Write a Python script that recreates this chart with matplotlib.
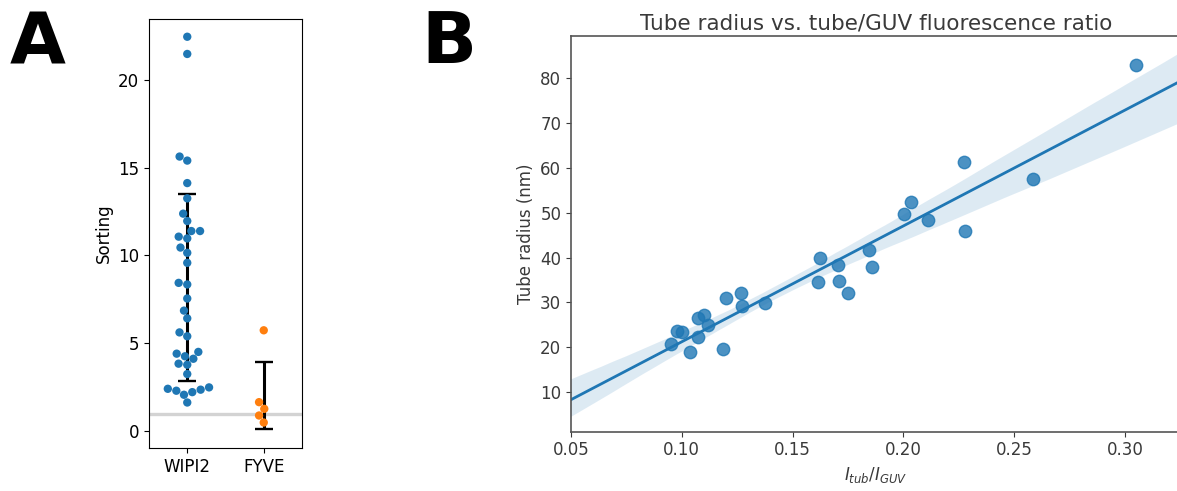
import numpy as np
import matplotlib
matplotlib.use('Agg')
import matplotlib.pyplot as plt
import seaborn as sns
import pandas as pd

# panel A: sorting values per protein
wipi2 = [22.45, 21.47, 15.63, 15.40, 14.12, 13.25, 12.38, 11.96, 11.39, 11.39,
         11.07, 10.97, 10.45, 10.15, 9.58, 8.44, 8.35, 7.55, 6.86, 6.42,
         5.62, 5.40, 4.51, 4.41, 4.26, 4.12, 3.84, 3.78, 3.25, 2.49,
         2.41, 2.36, 2.30, 2.22, 2.07, 1.63]
fyve = [5.74, 1.65, 1.27, 0.89, 0.49]
groups = ['WIPI2', 'FYVE']

# panel B: fluorescence ratio vs tube radius
ratio = [0.3048, 0.2272, 0.2586, 0.2034, 0.2001, 0.2113, 0.2277,
         0.1624, 0.1703, 0.1845, 0.1860, 0.1613, 0.1710, 0.1749,
         0.1198, 0.1266, 0.1272, 0.1375, 0.1102, 0.1075, 0.1120,
         0.0977, 0.1002, 0.1071, 0.0951, 0.1036, 0.1186]
radius = [82.96, 61.41, 57.55, 52.36, 49.75, 48.41, 45.96,
          40.0, 38.45, 41.73, 37.8, 34.66, 34.9, 32.2,
          31.03, 32.14, 29.24, 29.98, 27.24, 26.64, 25.0,
          23.74, 23.51, 22.4, 20.77, 19.0, 19.66]

W, H = 1177, 491
fig = plt.figure(figsize=(W / 100, H / 100), dpi=100)

# ---- A ----
axA = fig.add_axes([149 / W, 1 - 448 / H, 153 / W, 429 / H])
df = pd.DataFrame({'group': ['WIPI2'] * len(wipi2) + ['FYVE'] * len(fyve),
                   'val': wipi2 + fyve})
axA.axhline(1, color='lightgray', lw=2.4, zorder=0)
means = [np.mean(wipi2), np.mean(fyve)]
sds = [np.std(wipi2), np.std(fyve)]
axA.errorbar([0, 1], means, yerr=sds, fmt='none', ecolor='black',
             elinewidth=2.2, capsize=6.4, capthick=1.7, zorder=1)
sns.swarmplot(data=df, x='group', y='val', hue='group', order=groups,
              palette=['#1f77b4', '#ff7f0e'], size=6, legend=False,
              ax=axA, zorder=3)
axA.set_xlim(-0.5, 1.5)
axA.set_ylim(-0.96, 23.46)
axA.set_yticks([0, 5, 10, 15, 20])
axA.set_xlabel('')
axA.set_ylabel('Sorting', fontsize=12)
axA.tick_params(labelsize=12)

# ---- B ----
gray = '#3a3a3a'
axB = fig.add_axes([571 / W, 1 - 431.7 / H, 610 / W, 395.7 / H])
xlo, xhi = 0.05, 0.05 + 610 / 2216
axB.set_xlim(xlo, xhi)
sns.regplot(x=np.array(ratio), y=np.array(radius), ax=axB, color='#1f77b4',
            truncate=False, seed=0, scatter_kws={'s': 80, 'alpha': 0.8},
            line_kws={'lw': 2})
axB.set_xlim(xlo, xhi)
axB.set_ylim(1.2, 89.4)
axB.set_xticks([0.05, 0.10, 0.15, 0.20, 0.25, 0.30])
axB.set_yticks([10, 20, 30, 40, 50, 60, 70, 80])
for s in axB.spines.values():
    s.set_color('#555555')
    s.set_linewidth(1.2)
axB.tick_params(labelsize=12, colors=gray)
axB.set_title('Tube radius vs. tube/GUV fluorescence ratio', fontsize=15.5,
              color=gray, pad=5)
axB.set_xlabel('$I_{tub}/I_{GUV}$', fontsize=12, color=gray)
axB.set_ylabel('Tube radius (nm)', fontsize=12, color=gray)

fig.text(10 / W, 1 - 63 / H, 'A', fontsize=52, fontweight='bold')
fig.text(421 / W, 1 - 63 / H, 'B', fontsize=52, fontweight='bold')

fig.savefig('out.png', dpi=100)
